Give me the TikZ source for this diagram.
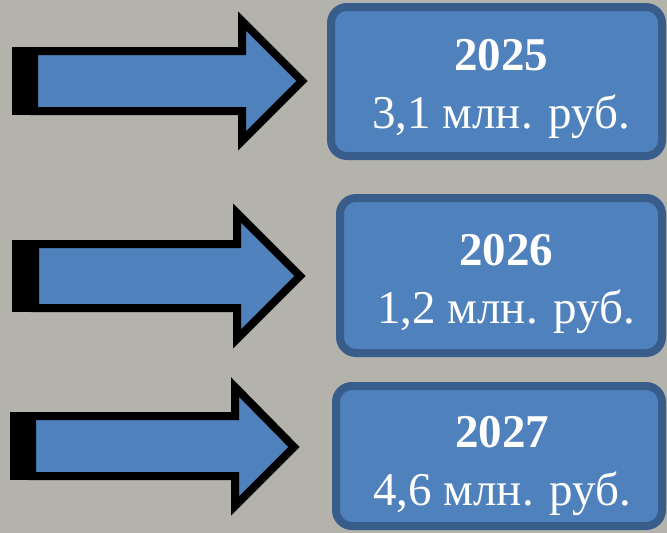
\documentclass[tikz,border=0pt]{standalone}
\usepackage{fontspec}
\setmainfont{Liberation Serif}
\usetikzlibrary{positioning,calc}
\definecolor{slidegrey}{RGB}{179,179,171}
\definecolor{boxblue}{RGB}{79,129,189}
\definecolor{boxedge}{RGB}{56,93,138}
\tikzstyle{yearbox} = [rectangle, rounded corners=16pt, draw=boxedge, line width=8pt, fill=boxblue, inner sep=0pt]
\tikzstyle{sumtext} = [text=white, align=center, anchor=base, inner sep=0pt, font=\fontsize{47}{58}\selectfont]
\tikzstyle{bigarrow} = [draw=black, line width=8pt, fill=boxblue, miter limit=10]
\begin{document}
\begin{tikzpicture}[x=1pt,y=-1pt]
\fill[slidegrey] (0,0) rectangle (667,533);
\useasboundingbox (0,0) rectangle (667,533);
% arrows
\draw[bigarrow] (34,51) -- (242,51) -- (242,21) -- (302,81) -- (242,141) -- (242,111) -- (34,111) -- cycle;
\fill (12,47) rectangle (38,115);
\draw[bigarrow] (35,244) -- (237,244) -- (237,213) -- (300,276) -- (237,339) -- (237,308) -- (35,308) -- cycle;
\fill (12,240) rectangle (39,312);
\draw[bigarrow] (32,416) -- (235,416) -- (235,387) -- (294,447) -- (235,506) -- (235,476) -- (32,476) -- cycle;
\fill (10,412) rectangle (36,480);
% boxes
\node[yearbox, minimum width=331pt, minimum height=149pt] (box25) at (496.5,81.5) {};
\node[yearbox, minimum width=322pt, minimum height=155pt] (box26) at (501,275.5) {};
\node[yearbox, minimum width=326pt, minimum height=140pt] (box27) at (499,456) {};
\node[sumtext] (sum25) at (501,128) {\textbf{2025}\\3,1 млн. руб.};
\node[sumtext] (sum26) at (506,323) {\textbf{2026}\\1,2 млн. руб.};
\node[sumtext] (sum27) at (502,505) {\textbf{2027}\\4,6 млн. руб.};
\end{tikzpicture}
\end{document}
